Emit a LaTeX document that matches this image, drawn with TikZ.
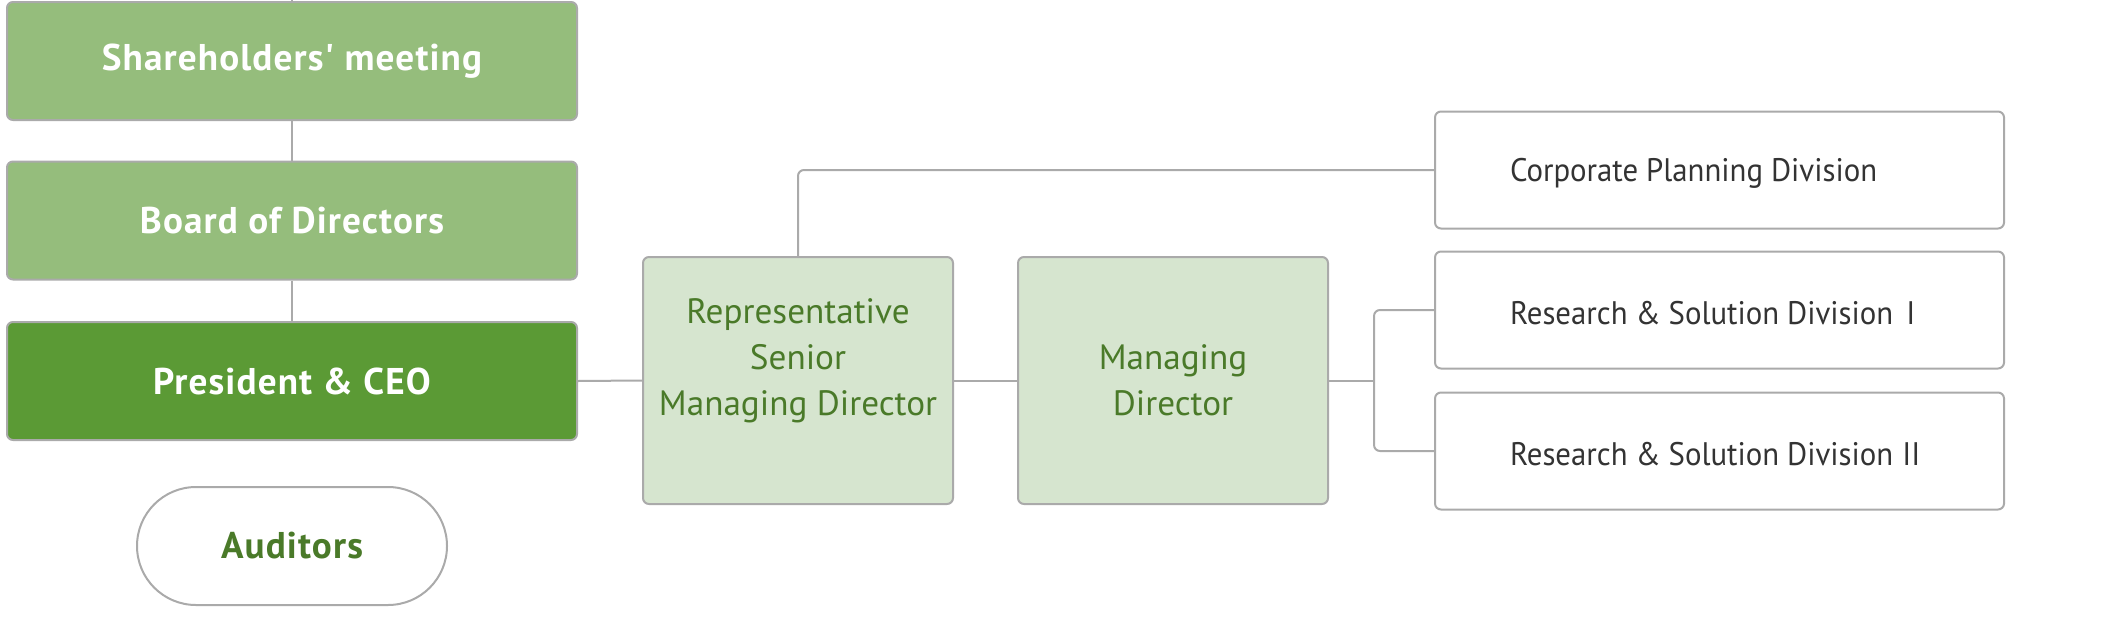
\documentclass[tikz,border=0pt]{standalone}
\usepackage{fontspec}
\setmainfont{PT Sans}
\newfontfamily\boldf[LetterSpace=3]{PT Sans}
\newfontfamily\lightf{PT Sans}
\newfontfamily\divf[FakeStretch=0.945]{PT Sans}
\definecolor{lineg}{RGB}{170,170,170}
\definecolor{midg}{RGB}{149,189,124}
\definecolor{darkg}{RGB}{91,154,53}
\definecolor{paleg}{RGB}{214,229,207}
\definecolor{txtg}{RGB}{74,122,41}
\definecolor{txtd}{RGB}{51,51,51}
\newcommand{\divtext}[1]{\hspace*{37.5pt}\raisebox{-1.5pt}[\height][\depth]{\spaceskip=0.245em\relax #1}}
\tikzset{
  box/.style={draw=lineg, line width=1pt, rounded corners=3pt, inner sep=0pt, align=center},
  leftbox/.style={box, minimum width=285pt, minimum height=59pt, text=white,
    font=\boldf\bfseries\fontsize{18.6}{22}\selectfont},
  midbox/.style={box, fill=paleg, minimum width=155pt, minimum height=123.5pt, text=txtg,
    font=\lightf\fontsize{17.6}{23}\selectfont},
  divbox/.style={box, fill=white, minimum height=58.5pt, text width=284.5pt,
    align=left, text=txtd, font=\divf\fontsize{16.3}{19}\selectfont},
  conn/.style={draw=lineg, line width=1pt}
}
\begin{document}
\begin{tikzpicture}[x=0.5pt,y=-0.5pt]
\useasboundingbox (0,0) rectangle (2123,621);
\coordinate (top) at (292,0);
\node[leftbox, fill=midg] (sh) at (292,61) {Shareholders' meeting};
\node[leftbox, fill=midg] (bd) at (292,220.5) {Board of Directors};
\node[leftbox, fill=darkg] (pr) at (292,381) {President \& CEO};
\node[box, fill=white, rounded corners=29.5pt, minimum width=155pt, minimum height=59pt,
  text=txtg, font=\boldf\bfseries\fontsize{18.6}{22}\selectfont] (au) at (292,546) {Auditors};
\node[midbox] (rs) at (798,380.5) {Representative\\Senior\\Managing Director\\\mbox{}};
\node[midbox] (md) at (1173,380.5) {Managing\\Director};
\node[divbox] (cp) at (1719.5,170) {\divtext{Corporate Planning Division}};
\node[divbox] (r1) at (1719.5,310) {\divtext{Research \& Solution Division\hspace{6.5pt}I}};
\node[divbox] (r2) at (1719.5,451) {\divtext{Research \& Solution Division\hspace{4.5pt}II}};
\coordinate (br) at (1374,380.5);
\draw[conn] (top) -- (sh.north);
\draw[conn] (sh.south) -- (bd.north);
\draw[conn] (bd.south) -- (pr.north);
\draw[conn] (pr.east) -- (rs.west);
\draw[conn] (rs.east) -- (md.west);
\draw[conn] (md.east) -- (br);
\draw[conn, rounded corners=3pt] (rs.north) |- (cp.west);
\draw[conn, rounded corners=3pt] (r1.west) -| (br) |- (r2.west);
\end{tikzpicture}
\end{document}
